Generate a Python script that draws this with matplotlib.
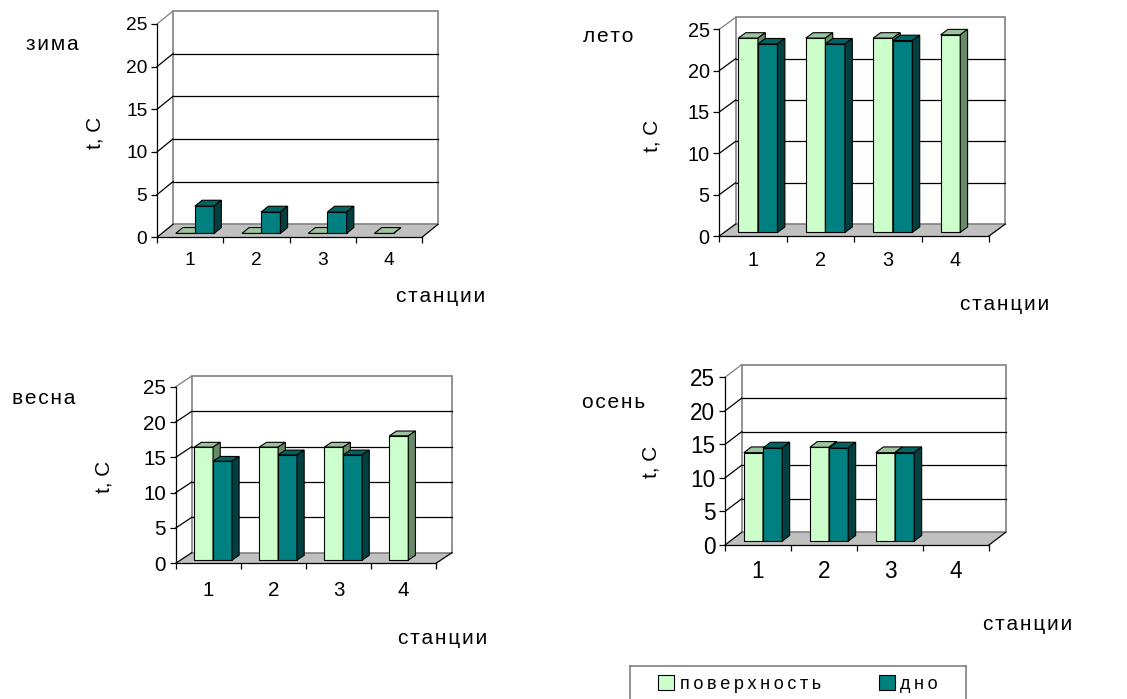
import numpy as np
import matplotlib
matplotlib.use("Agg")
import matplotlib.pyplot as plt
from matplotlib.patches import Polygon, Rectangle, Patch

plt.rcParams['font.family'] = ['Liberation Sans', 'DejaVu Sans']

W, H = 1127, 699

# station numbers and temperatures (t, C); nan means no measurement
stations = ['1', '2', '3', '4']
y_ticks = [0, 5, 10, 15, 20, 25]
series_names = ['поверхность', 'дно']

winter_surface = [0, 0, 0, 0]
winter_bottom = [3.2, 2.5, 2.5, np.nan]
summer_surface = [23.5, 23.5, 23.5, 23.9]
summer_bottom = [22.8, 22.8, 23.2, np.nan]
spring_surface = [16.0, 16.0, 16.0, 17.6]
spring_bottom = [14.0, 14.9, 14.9, np.nan]
autumn_surface = [13.2, 14.0, 13.2, np.nan]
autumn_bottom = [13.9, 13.9, 13.2, np.nan]

# face colours: front, top, side
SURF = ('#CCFFCC', '#9CC49C', '#678A67')
BOTT = ('#008080', '#006464', '#004040')
WALL = '#808080'
FLOOR = '#C0C0C0'


def px_box(left, top, right, bottom):
    return [left / W, 1 - bottom / H, (right - left) / W, (bottom - top) / H]


def spaced(s, gap='\u200a'):
    return gap.join(s)


def bar3d(ax, x0, width, v, dx, dy, colors):
    f0, f1 = 0.3, 0.75
    x1 = x0 + width
    a, b = f0 * dy, f1 * dy
    front = [(x0 + f0 * dx, a), (x1 + f0 * dx, a), (x1 + f0 * dx, v + a), (x0 + f0 * dx, v + a)]
    top = [(x0 + f0 * dx, v + a), (x1 + f0 * dx, v + a), (x1 + f1 * dx, v + b), (x0 + f1 * dx, v + b)]
    side = [(x1 + f0 * dx, a), (x1 + f1 * dx, b), (x1 + f1 * dx, v + b), (x1 + f0 * dx, v + a)]
    for pts, c in zip((front, top, side), colors):
        ax.add_patch(Polygon(pts, closed=True, facecolor=c, edgecolor='black',
                             lw=0.8, joinstyle='miter', clip_on=False, zorder=3))


def draw_panel(fig, lay, surface, bottom):
    box = px_box(*lay['box'])
    ax = fig.add_axes(box)
    ax.patch.set_visible(False)
    n = len(stations)
    ax.set_xlim(0, n)
    ax.set_ylim(0, y_ticks[-1])

    # depth of the "3d" box in data units
    dx = lay['depth'][0] * n / (box[2] * W)
    dy = lay['depth'][1] * y_ticks[-1] / (box[3] * H)
    top = y_ticks[-1]

    floor = [(0, 0), (n, 0), (n + dx, dy), (dx, dy)]
    ax.add_patch(Polygon(floor, closed=True, facecolor=FLOOR, edgecolor='none',
                         clip_on=False, zorder=1))
    ax.add_patch(Rectangle((dx, dy), n, top, facecolor='white', edgecolor=WALL,
                           lw=1.2, clip_on=False, zorder=1.2))
    for t in y_ticks[1:-1]:
        ax.plot([dx, n + dx], [t + dy, t + dy], color='black', lw=0.9,
                clip_on=False, zorder=1.5)
    for t in y_ticks:
        ax.plot([0, dx], [t, t + dy], color=WALL if t == top else 'black',
                lw=0.9, clip_on=False, zorder=1.5)
    ax.plot([n, n + dx], [0, dy], color='black', lw=0.9, clip_on=False, zorder=1.5)

    pos = np.arange(n)
    for i in pos:
        if not np.isnan(surface[i]):
            bar3d(ax, i + 0.21, 0.29, surface[i], dx, dy, SURF)
        if not np.isnan(bottom[i]):
            bar3d(ax, i + 0.50, 0.29, bottom[i], dx, dy, BOTT)

    for s in ('top', 'right'):
        ax.spines[s].set_visible(False)
    for s in ('left', 'bottom'):
        ax.spines[s].set_linewidth(0.9)
        ax.spines[s].set_zorder(2)
    fs = lay['fs']
    ax.set_yticks(y_ticks)
    ax.tick_params(axis='y', direction='out', length=4, width=0.9, pad=3,
                   labelsize=fs)
    ax.set_xticks(np.arange(n + 1))
    ax.set_xticklabels([])
    ax.set_xticks(pos + 0.5, minor=True)
    ax.set_xticklabels(stations, minor=True, fontsize=fs)
    ax.tick_params(axis='x', which='major', direction='out', length=4, width=0.9)
    ax.tick_params(axis='x', which='minor', length=0, pad=lay['xpad'])

    tx, ty = lay['title']
    fig.text(tx / W, 1 - ty / H, spaced(lay['name']), fontsize=15, va='center', ha='left')
    lx, ly = lay['ylabel']
    fig.text(lx / W, 1 - ly / H, 't, C', fontsize=15, rotation=90,
             va='center', ha='center')
    sx, sy = lay['xlabel']
    fig.text(sx / W, 1 - sy / H, spaced('станции'), fontsize=15, va='center', ha='left')
    return ax


layouts = [
    dict(name=season, box=b, depth=d, fs=f, xpad=p, title=t, ylabel=yl, xlabel=xl)
    for season, b, d, f, p, t, yl, xl in [
        ('зима', (157, 24, 422, 237.3), (16, 13), 13.8, 10.5, (26, 45), (95, 133), (396, 297)),
        ('лето', (719.3, 29.3, 989, 236), (16.4, 12), 14.3, 10.5, (583, 37), (652, 136), (960, 305)),
        ('весна', (175.7, 386.7, 436, 563.3), (16, 10.6), 14.8, 12.5, (12, 398), (104, 477), (398, 638)),
        ('осень', (725, 377.3, 989, 545), (16.7, 12.7), 16.3, 10.5, (582, 403), (651, 462), (983, 625)),
    ]
]
data = [(winter_surface, winter_bottom), (summer_surface, summer_bottom),
        (spring_surface, spring_bottom), (autumn_surface, autumn_bottom)]

fig = plt.figure(figsize=(W / 100, H / 100), dpi=100)
for lay, (surf, bott) in zip(layouts, data):
    draw_panel(fig, lay, surf, bott)

# legend box, runs off the lower edge
lax = fig.add_axes(px_box(630, 666, 966, 702))
lax.set_xticks([])
lax.set_yticks([])
for s in lax.spines.values():
    s.set_edgecolor(WALL)
    s.set_linewidth(1.2)
handles = [Patch(facecolor=SURF[0], edgecolor='black', lw=0.8),
           Patch(facecolor=BOTT[0], edgecolor='black', lw=0.8)]
lax.legend(handles, [spaced(s, '\u2009') for s in series_names], loc='center',
           ncol=2, frameon=False, fontsize=13, handlelength=0.9, handleheight=0.9,
           handletextpad=0.3, columnspacing=3.2)

fig.savefig('out.png', dpi=100)
